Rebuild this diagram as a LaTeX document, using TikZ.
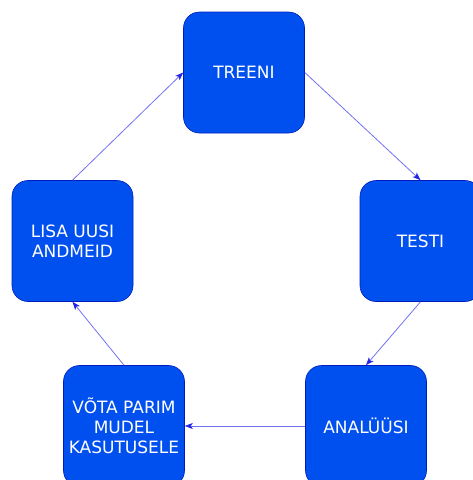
\documentclass[tikz,border=0pt]{standalone}
\usepackage{fontspec}
\setmainfont{DejaVu Sans}
\usetikzlibrary{arrows.meta}
\definecolor{boxfill}{HTML}{0050EF}
\definecolor{boxline}{HTML}{001DBC}
\definecolor{arrline}{HTML}{7272F2}
\definecolor{arrtip}{HTML}{2424E6}
\tikzset{
  stepbox/.style={rectangle, rounded corners=16pt, minimum width=121pt, minimum height=121pt,
    inner sep=0pt, fill=boxfill, draw=boxline, line width=0.6pt, text=white,
    font=\fontsize{17}{20}\selectfont, align=center},
  arr/.style={draw=arrline, line width=0.8pt, -{Stealth[length=8pt,width=6pt,inset=2pt,color=arrtip]}}
}
\begin{document}
\begin{tikzpicture}[x=1pt,y=-1pt]
\useasboundingbox (0,0) rectangle (473,480);
\clip (0,0) rectangle (473,480);
\node[stepbox] (treeni) at (244,72.5) {TREENI};
\node[stepbox] (testi) at (420.5,241) {TESTI};
\node[stepbox] (analyysi) at (366,426) {ANALÜÜSI};
\node[stepbox] (vota) at (124,426) {VÕTA PARIM\\MUDEL\\KASUTUSELE};
\node[stepbox] (lisa) at (72.5,241) {LISA UUSI\\ANDMEID};
\draw[arr] (treeni.east) -- (testi.north);
\draw[arr] (testi.south) -- (analyysi.north);
\draw[arr] (analyysi.west) -- (vota.east);
\draw[arr] (vota.north) -- (lisa.south);
\draw[arr] (lisa.north) -- (treeni.west);
\end{tikzpicture}
\end{document}
